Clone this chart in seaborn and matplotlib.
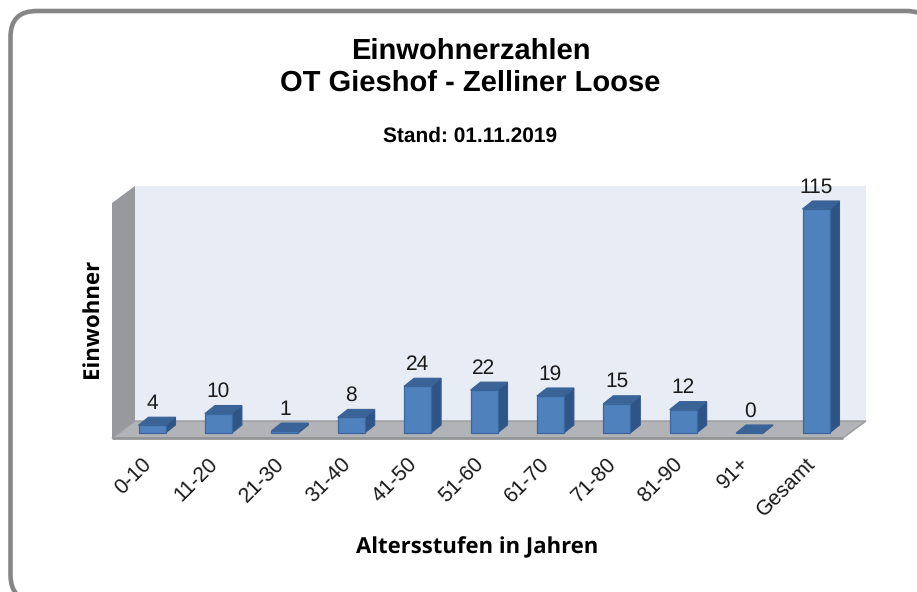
import matplotlib
matplotlib.use("Agg")
import matplotlib.pyplot as plt
from matplotlib.patches import FancyBboxPatch, Polygon
from matplotlib.transforms import ScaledTranslation
import pandas as pd
import seaborn as sns

# ---- data ----
categories = ["0-10", "11-20", "21-30", "31-40", "41-50", "51-60",
              "61-70", "71-80", "81-90", "91+", "Gesamt"]
values = [4, 10, 1, 8, 24, 22, 19, 15, 12, 0, 115]
title_text = "Einwohnerzahlen\nOT Gieshof - Zelliner Loose"
subtitle_text = "Stand: 01.11.2019"
y_label = "Einwohner"
x_label = "Altersstufen in Jahren"

W, H = 917, 592
sns.set_theme(style="white")
plt.rcParams["font.family"] = ["Liberation Sans", "DejaVu Sans"]
plt.rcParams["text.kerning_factor"] = 0
plt.rcParams["text.hinting"] = "no_hinting"

fig = plt.figure(figsize=(W / 100, H / 100), dpi=100, facecolor="white")

# outer rounded frame (pixel coordinates on the figure)
frame_ax = fig.add_axes([0, 0, 1, 1], zorder=0)
frame_ax.set_xlim(0, W)
frame_ax.set_ylim(H, 0)
frame_ax.axis("off")
frame_ax.add_patch(FancyBboxPatch((10.5, 11), 922, 590,
                                  boxstyle="round,pad=0,rounding_size=26",
                                  fc="white", ec="#868686", lw=3.3, clip_on=True))

# plot box: the front edge of the floor
left, right, bottom_px, top_px = 112, 843, 438, 203
px_per_cat = 66.4
px_per_val = 1.948
base_px = 433
first_px = 152
ax = fig.add_axes([left / W, 1 - bottom_px / H, (right - left) / W, (bottom_px - top_px) / H],
                  zorder=1)
df = pd.DataFrame({"Altersstufe": categories, "Einwohner": values})
sns.barplot(data=df, x="Altersstufe", y="Einwohner", color="#4f81bd", saturation=1,
            width=27 / px_per_cat, ax=ax, edgecolor="#3a689f", linewidth=0.9, zorder=5)
ax.set_xlim((left - first_px) / px_per_cat, (right - first_px) / px_per_cat)
ax.set_ylim((base_px - bottom_px) / px_per_val, (base_px - top_px) / px_per_val)
ax.patch.set_alpha(0)
for s in ax.spines.values():
    s.set_visible(False)
ax.grid(False)
ax.set_xlabel("")
ax.set_ylabel("")
ax.set_yticks([])

x0, x1 = ax.get_xlim()
y0, y1 = ax.get_ylim()
wall_dx = 23 / px_per_cat
wall_dy = 17 / px_per_val
bar_dx = 10 / px_per_cat
bar_dy = 8 / px_per_val

# back wall, left wall, floor
ax.add_patch(Polygon([(x0 + wall_dx, y0 + wall_dy), (x1 + wall_dx, y0 + wall_dy),
                      (x1 + wall_dx, y1 + wall_dy), (x0 + wall_dx, y1 + wall_dy)],
                     fc="#e7ecf5", ec="none", clip_on=False, zorder=1))
ax.add_patch(Polygon([(x0, y0), (x0 + wall_dx, y0 + wall_dy),
                      (x0 + wall_dx, y1 + wall_dy), (x0, y1)],
                     fc="#98999d", ec="none", clip_on=False, zorder=2))
ax.add_patch(Polygon([(x0, y0), (x1, y0), (x1 + wall_dx, y0 + wall_dy), (x0 + wall_dx, y0 + wall_dy)],
                     fc="#b1b3b7", ec="#9a9b9e", lw=1, clip_on=False, zorder=2))
ax.plot([x0, x1], [y0, y0], color="#949597", lw=2, clip_on=False, zorder=3, solid_capstyle="butt")

# depth faces of each bar, taken from the bars the library drew
for bar, val, cat in zip(ax.patches[:len(values)], values, categories):
    bx, bw, bh = bar.get_x(), bar.get_width(), bar.get_height()
    ax.add_patch(Polygon([(bx + bw, 0), (bx + bw + bar_dx, bar_dy),
                          (bx + bw + bar_dx, bh + bar_dy), (bx + bw, bh)],
                         fc="#2f5587", ec="#34598c", lw=0.8, zorder=4, clip_on=False))
    ax.add_patch(Polygon([(bx, bh), (bx + bw, bh), (bx + bw + bar_dx, bh + bar_dy), (bx + bar_dx, bh + bar_dy)],
                         fc="#3a6398", ec="#3a6398", lw=0.8, zorder=6, clip_on=False))
    ax.annotate(str(val), (bx + bw / 2, bh + bar_dy), xytext=(0, 3), textcoords="offset points",
                ha="center", va="bottom", fontsize=15, color="#1a1a1a", zorder=7, annotation_clip=False)

ax.set_xticks(range(len(categories)))
ax.set_xticklabels(categories, rotation=45, ha="right", rotation_mode="anchor",
                   fontsize=15.2, color="#1a1a1a")
ax.tick_params(axis="x", length=0, pad=11.5)
# move labels a little to the left, as in the original
shift = ScaledTranslation(-11 / 100, 0, fig.dpi_scale_trans)
for lab in ax.get_xticklabels():
    lab.set_transform(lab.get_transform() + shift)

fig.text(470.5 / W, 1 - 67 / H, title_text, ha="center", va="center", fontsize=21,
         fontweight="bold", color="black", linespacing=1.22)
fig.text(470.5 / W, 1 - 136.5 / H, subtitle_text, ha="center", va="center", fontsize=15,
         fontweight="bold", color="black")
fig.text(92 / W, 1 - 318 / H, y_label, rotation=90, ha="center", va="center", fontsize=16,
         fontweight="bold", color="black", family=["Open Sans", "DejaVu Sans"])
fig.text(477.5 / W, 1 - 548 / H, x_label, ha="center", va="center", fontsize=15.9,
         fontweight="bold", color="black", family=["Open Sans", "DejaVu Sans"])

fig.savefig("out.png", dpi=100)
